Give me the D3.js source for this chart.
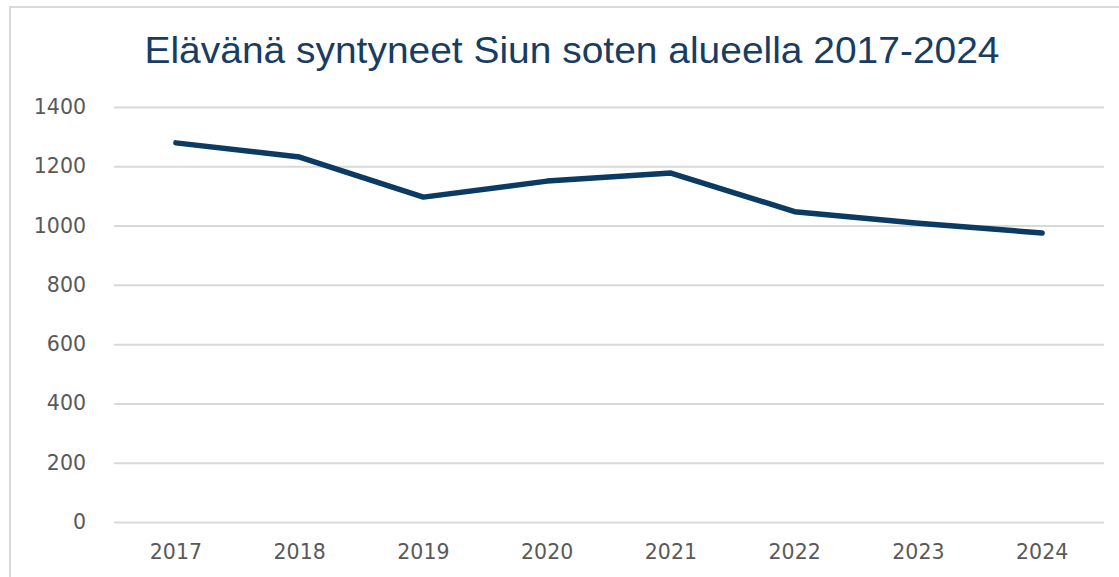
<!DOCTYPE html>
<html>
<head>
<meta charset="utf-8">
<script src="https://cdn.jsdelivr.net/npm/d3@7"></script>
<style>
  body { margin: 0; background: #fff; }
</style>
</head>
<body>
<div id="chart"></div>
<script>
const width = 1119;
const height = 577;

const years = ["2017", "2018", "2019", "2020", "2021", "2022", "2023", "2024"];
const births = [1279, 1231, 1096, 1150, 1177, 1047, 1008, 975];
const yTicks = [0, 200, 400, 600, 800, 1000, 1200, 1400];
const title = "Elävänä syntyneet Siun soten alueella 2017-2024";

const margin = {l: 114, r: 15, t: 107, b: 55};

main();

function main() {
  const data = years.map((y, i) => ({year: y, value: births[i]}));

  const svg = d3.select("#chart").append("svg")
    .attr("width", width)
    .attr("height", height);

  svg.append("rect")
    .attr("width", width).attr("height", height)
    .attr("fill", "#fff");

  // outer frame of the chart area (clipped at right/bottom in the source)
  svg.append("rect")
    .attr("x", 10).attr("y", 7)
    .attr("width", width + 20).attr("height", height + 20)
    .attr("fill", "none")
    .attr("stroke", "#d9d9d9")
    .attr("stroke-width", 2);

  const x = d3.scaleBand()
    .domain(years)
    .range([margin.l, width - margin.r]);

  const y = d3.scaleLinear()
    .domain([0, 1400])
    .range([height - margin.b, margin.t]);

  // gridlines + y labels
  const yAxis = svg.append("g")
    .attr("transform", `translate(${margin.l},0)`)
    .call(d3.axisLeft(y).tickValues(yTicks)
      .tickSize(-(width - margin.r - margin.l))
      .tickPadding(28)
      .tickFormat(d3.format("d")));
  yAxis.select(".domain").remove();
  yAxis.selectAll(".tick line")
    .attr("stroke", "#d9d9d9")
    .attr("stroke-width", 2);
  yAxis.selectAll(".tick text")
    .attr("fill", "#595959")
    .style("font-family", "DejaVu Sans, sans-serif")
    .style("font-size", "20.5px");

  // x labels
  const xAxis = svg.append("g")
    .attr("transform", `translate(0,${height - margin.b})`)
    .call(d3.axisBottom(x).tickSize(0).tickPadding(22));
  xAxis.select(".domain").remove();
  xAxis.selectAll(".tick text")
    .attr("fill", "#595959")
    .style("font-family", "DejaVu Sans, sans-serif")
    .style("font-size", "20.5px");

  const line = d3.line()
    .x(d => x(d.year) + x.bandwidth() / 2)
    .y(d => y(d.value));

  svg.append("path")
    .datum(data)
    .attr("d", line)
    .attr("fill", "none")
    .attr("stroke", "#0b3a62")
    .attr("stroke-width", 5.5)
    .attr("stroke-linecap", "round")
    .attr("stroke-linejoin", "round");

  svg.append("text")
    .attr("x", 572)
    .attr("y", 63)
    .attr("text-anchor", "middle")
    .attr("fill", "#173d63")
    .attr("textLength", 855)
    .attr("lengthAdjust", "spacingAndGlyphs")
    .style("font-family", "Liberation Sans, Arial, sans-serif")
    .style("font-size", "36px")
    .text(title);
}
</script>
</body>
</html>
